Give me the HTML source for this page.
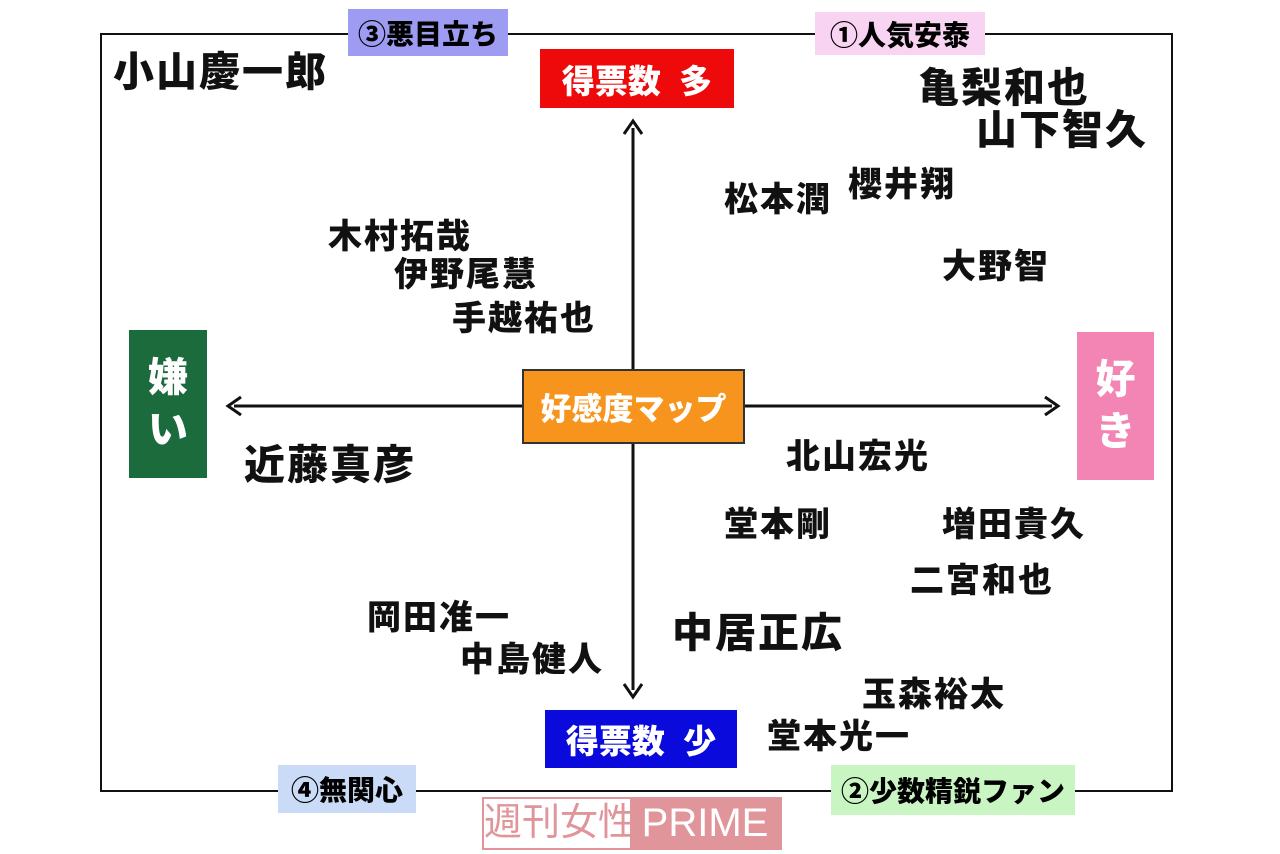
<!DOCTYPE html>
<html><head><meta charset="utf-8"><style>
body{margin:0;width:1280px;height:854px;background:#fff;position:relative;overflow:hidden;font-family:"Liberation Sans","Noto Sans CJK JP",sans-serif;font-weight:bold}
.a{position:absolute;white-space:nowrap;line-height:1}
.n{position:absolute;white-space:nowrap;line-height:1;color:#111;font-size:34px;font-weight:900;letter-spacing:2px}
.L{font-size:41px}
.box{position:absolute;display:flex;align-items:center;justify-content:center;font-weight:900;white-space:nowrap}
</style></head><body>
<div class="a" style="left:100px;top:33px;width:1069px;height:755px;border:2px solid #111"></div>
<svg style="position:absolute;left:0;top:0" width="1280" height="854">
<line x1="633" y1="128" x2="633" y2="690" stroke="#111" stroke-width="3"/>
<line x1="234" y1="406" x2="1052" y2="406" stroke="#111" stroke-width="3"/>
<polyline points="624,134 633,121 642,134" fill="none" stroke="#111" stroke-width="3"/>
<polyline points="624,684 633,697 642,684" fill="none" stroke="#111" stroke-width="3"/>
<polyline points="241,397 228,406 241,415" fill="none" stroke="#111" stroke-width="3"/>
<polyline points="1045,397 1058,406 1045,415" fill="none" stroke="#111" stroke-width="3"/>
</svg>
<div class="box" style="left:348px;top:9px;width:160px;height:47px;background:#9d9cf2;font-size:28px">③悪目立ち</div>
<div class="box" style="left:815px;top:12px;width:170px;height:43px;background:#f8d3f2;font-size:28px">①人気安泰</div>
<div class="box" style="left:278px;top:765px;width:138px;height:48px;background:#c9dbf6;font-size:28px">④無関心</div>
<div class="box" style="left:831px;top:765px;width:244px;height:50px;background:#c8f5c2;font-size:28px">②少数精鋭ファン</div>
<div class="box" style="left:540px;top:49px;width:194px;height:59px;background:#ee0a0a;color:#fff;font-size:33px">得票数&nbsp;&nbsp;多</div>
<div class="box" style="left:545px;top:710px;width:192px;height:58px;background:#0a0adc;color:#fff;font-size:33px">得票数&nbsp;&nbsp;少</div>
<div class="box" style="left:129px;top:330px;width:78px;height:148px;background:#1b6b3c;color:#fff;font-size:40px;flex-direction:column;line-height:1.3">嫌<br>い</div>
<div class="box" style="left:1077px;top:332px;width:77px;height:148px;background:#f285b3;color:#fff;font-size:40px;flex-direction:column;line-height:1.3">好<br>き</div>
<div class="box" style="left:522px;top:369px;width:219px;height:71px;background:#f7941d;border:2px solid #333;color:#fff;font-size:31px">好感度マップ</div>
<div class="n L" style="left:113px;top:52px">小山慶一郎</div>
<div class="n L" style="left:918px;top:68px">亀梨和也</div>
<div class="n L" style="left:976px;top:110px">山下智久</div>
<div class="n" style="left:724px;top:183px">松本潤</div>
<div class="n" style="left:848px;top:168px">櫻井翔</div>
<div class="n" style="left:328px;top:220px">木村拓哉</div>
<div class="n" style="left:394px;top:258px">伊野尾慧</div>
<div class="n" style="left:452px;top:302px">手越祐也</div>
<div class="n" style="left:942px;top:250px">大野智</div>
<div class="n L" style="left:244px;top:445px">近藤真彦</div>
<div class="n" style="left:786px;top:440px">北山宏光</div>
<div class="n" style="left:724px;top:508px">堂本剛</div>
<div class="n" style="left:942px;top:508px">増田貴久</div>
<div class="n" style="left:910px;top:564px">二宮和也</div>
<div class="n" style="left:367px;top:601px">岡田准一</div>
<div class="n" style="left:460px;top:643px">中島健人</div>
<div class="n L" style="left:672px;top:613px">中居正広</div>
<div class="n" style="left:862px;top:678px">玉森裕太</div>
<div class="n" style="left:767px;top:720px">堂本光一</div>
<div class="a" style="left:482px;top:797px;width:296px;height:49px;border:2px solid #e0959a;display:flex;font-weight:normal">
<div style="width:146px;background:#fff;color:#e0959a;font-size:38px;line-height:49px;text-align:center">週刊女性</div>
<div style="flex:1;background:#e0959a;color:#fff;font-size:40px;line-height:49px;text-align:center">PRIME</div>
</div>
</body></html>
